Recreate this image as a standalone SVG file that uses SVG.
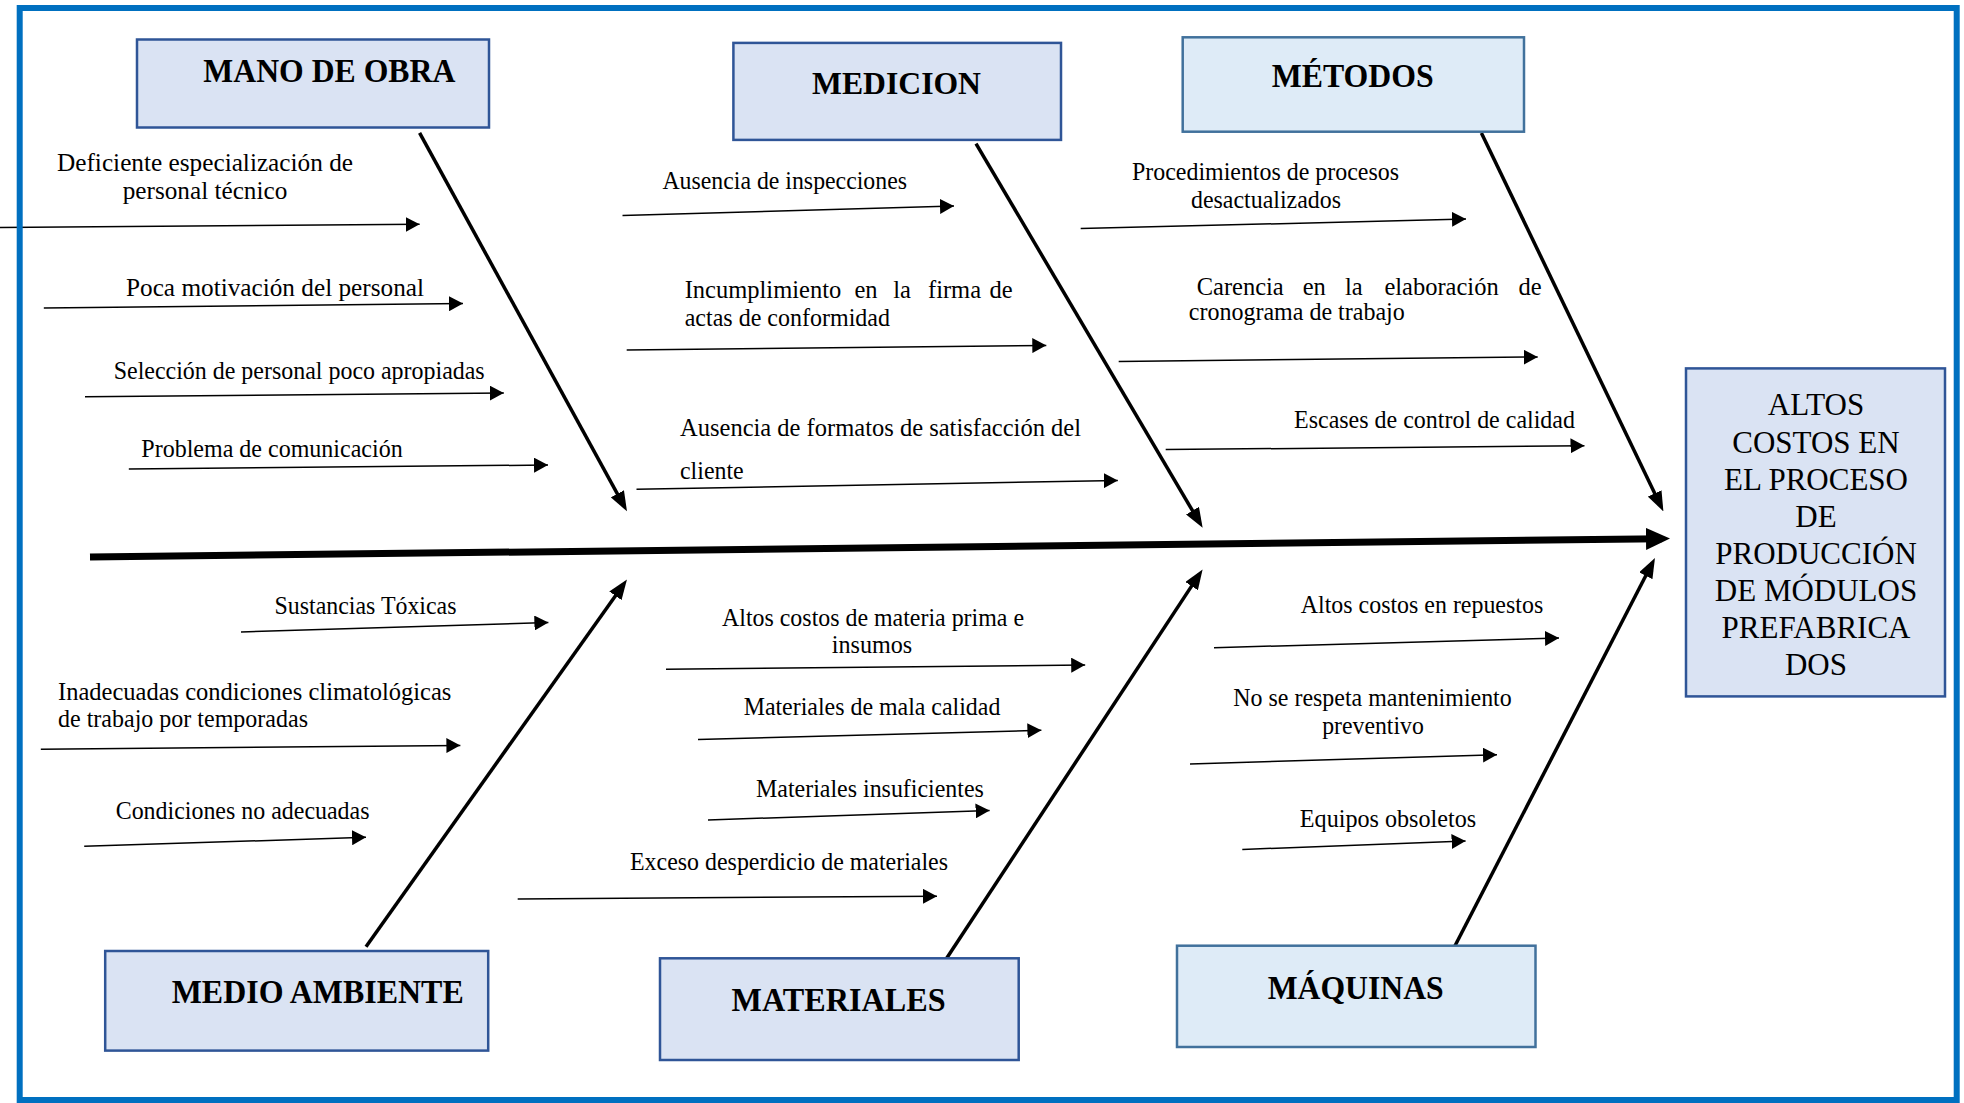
<svg xmlns="http://www.w3.org/2000/svg" width="1964" height="1103" viewBox="0 0 1964 1103">
<style>
.bg{fill:#ffffff}
.frame{fill:none;stroke:#0070C0;stroke-width:6}
.boxA{fill:#DAE3F3;stroke:#2F5597;stroke-width:2.5}
.boxB{fill:#DEEBF7;stroke:#41719C;stroke-width:2.5}
.title{font-family:"Liberation Serif","Times New Roman",serif;font-weight:bold;fill:#000}
.lbl{font-family:"Liberation Serif","Times New Roman",serif;font-size:24.5px;fill:#000}
.mid{text-anchor:middle}
.eff{font-family:"Liberation Serif","Times New Roman",serif;font-size:31px;fill:#000;text-anchor:middle}
.thin{fill:none;stroke:#000;stroke-width:1.5;marker-end:url(#hs)}
.diag{fill:none;stroke:#000;stroke-width:3.5;marker-end:url(#hd)}
.spine{fill:none;stroke:#000;stroke-width:7;marker-end:url(#hb)}
</style>
<defs>
<marker id="hs" markerUnits="userSpaceOnUse" markerWidth="14" markerHeight="15" refX="14" refY="7.5" orient="auto"><path d="M0,0 L14,7.5 L0,15 Z" fill="#000"/></marker>
<marker id="hd" markerUnits="userSpaceOnUse" markerWidth="20" markerHeight="15" refX="14" refY="7.5" orient="auto"><path d="M0,0 L20,7.5 L0,15 Z" fill="#000"/></marker>
<marker id="hb" markerUnits="userSpaceOnUse" markerWidth="24" markerHeight="22" refX="16" refY="11" orient="auto"><path d="M0,0 L24,11 L0,22 Z" fill="#000"/></marker>
</defs>
<rect class="bg" x="0" y="0" width="1964" height="1103"/>

<g id="connectors">
  <line class="spine" x1="90" y1="557" x2="1662" y2="538.7"/>
  <line class="diag" x1="419.6" y1="132.9" x2="624.1" y2="506.1"/>
  <line class="diag" x1="976" y1="143.6" x2="1199.6" y2="522.7"/>
  <line class="diag" x1="1481.4" y1="132.9" x2="1660.8" y2="506"/>
  <line class="diag" x1="366" y1="946.8" x2="623.5" y2="584.4"/>
  <line class="diag" x1="945" y1="960.8" x2="1199.3" y2="574.4"/>
  <line class="diag" x1="1455" y1="945.7" x2="1652.2" y2="563.3"/>

  <line class="thin" x1="0" y1="227.5" x2="419.6" y2="224.3"/>
  <line class="thin" x1="43.8" y1="307.9" x2="463" y2="303.6"/>
  <line class="thin" x1="85" y1="396.8" x2="503.8" y2="392.9"/>
  <line class="thin" x1="128.8" y1="469" x2="548" y2="465"/>
  <line class="thin" x1="622.5" y1="215.5" x2="954" y2="206"/>
  <line class="thin" x1="626.7" y1="350" x2="1046.3" y2="345.4"/>
  <line class="thin" x1="636.5" y1="489.3" x2="1117.8" y2="480.4"/>
  <line class="thin" x1="1080.7" y1="228.6" x2="1466" y2="219"/>
  <line class="thin" x1="1118.7" y1="361.4" x2="1537.7" y2="357"/>
  <line class="thin" x1="1165.7" y1="449.6" x2="1584.5" y2="445.7"/>
  <line class="thin" x1="241" y1="631.9" x2="548.4" y2="622.6"/>
  <line class="thin" x1="40.8" y1="749.3" x2="460.4" y2="745.4"/>
  <line class="thin" x1="84.2" y1="846.3" x2="366" y2="837.3"/>
  <line class="thin" x1="666" y1="669.3" x2="1085.2" y2="665"/>
  <line class="thin" x1="698" y1="739.6" x2="1041.4" y2="730.3"/>
  <line class="thin" x1="708" y1="820" x2="989.6" y2="810.4"/>
  <line class="thin" x1="517.7" y1="899" x2="937" y2="896.2"/>
  <line class="thin" x1="1214" y1="647.7" x2="1559" y2="638"/>
  <line class="thin" x1="1190" y1="764" x2="1497" y2="754.7"/>
  <line class="thin" x1="1242.3" y1="849.5" x2="1465.6" y2="841"/>
</g>

<g id="labels">
  <text class="lbl mid" x="205" y="170.7" textLength="296" lengthAdjust="spacingAndGlyphs">Deficiente especialización de</text>
  <text class="lbl mid" x="205" y="199.3" textLength="164.6" lengthAdjust="spacingAndGlyphs">personal técnico</text>
  <text class="lbl mid" x="275" y="295.7" textLength="298" lengthAdjust="spacingAndGlyphs">Poca motivación del personal</text>
  <text class="lbl mid" x="299.2" y="378.6" textLength="371" lengthAdjust="spacingAndGlyphs">Selección de personal poco apropiadas</text>
  <text class="lbl mid" x="272" y="457" textLength="261.4" lengthAdjust="spacingAndGlyphs">Problema de comunicación</text>

  <text class="lbl mid" x="784.7" y="189.3" textLength="244.6" lengthAdjust="spacingAndGlyphs">Ausencia de inspecciones</text>
  <text class="lbl" y="298"><tspan x="684.7">Incumplimiento</tspan><tspan x="854.4">en</tspan><tspan x="893.2">la</tspan><tspan x="928">firma</tspan><tspan x="989.6">de</tspan></text>
  <text class="lbl" x="684.7" y="325.7" textLength="205.3" lengthAdjust="spacingAndGlyphs">actas de conformidad</text>
  <text class="lbl" x="680" y="436.4" textLength="401" lengthAdjust="spacing">Ausencia de formatos de satisfacción del</text>
  <text class="lbl" x="680" y="478.6" textLength="63.7" lengthAdjust="spacingAndGlyphs">cliente</text>

  <text class="lbl mid" x="1265.5" y="180.4" textLength="267" lengthAdjust="spacingAndGlyphs">Procedimientos de procesos</text>
  <text class="lbl mid" x="1266" y="207.9" textLength="150" lengthAdjust="spacingAndGlyphs">desactualizados</text>
  <text class="lbl" y="294.6"><tspan x="1196.7">Carencia</tspan><tspan x="1302.7">en</tspan><tspan x="1345">la</tspan><tspan x="1384.4">elaboración</tspan><tspan x="1518.6">de</tspan></text>
  <text class="lbl" x="1188.8" y="319.6" textLength="216" lengthAdjust="spacingAndGlyphs">cronograma de trabajo</text>
  <text class="lbl mid" x="1434.5" y="427.9" textLength="281" lengthAdjust="spacingAndGlyphs">Escases de control de calidad</text>

  <text class="lbl mid" x="365.5" y="613.6" textLength="182" lengthAdjust="spacingAndGlyphs">Sustancias Tóxicas</text>
  <text class="lbl" y="699.8"><tspan x="58">Inadecuadas</tspan><tspan x="185.2">condiciones</tspan><tspan x="308.5">climatológicas</tspan></text>
  <text class="lbl" x="58" y="727.4" textLength="250" lengthAdjust="spacingAndGlyphs">de trabajo por temporadas</text>
  <text class="lbl mid" x="242.6" y="819.4" textLength="253.8" lengthAdjust="spacingAndGlyphs">Condiciones no adecuadas</text>

  <text class="lbl mid" x="873" y="626.2" textLength="302" lengthAdjust="spacingAndGlyphs">Altos costos de materia prima e</text>
  <text class="lbl mid" x="872" y="653" textLength="80.4" lengthAdjust="spacingAndGlyphs">insumos</text>
  <text class="lbl mid" x="872" y="715.2" textLength="256.7" lengthAdjust="spacingAndGlyphs">Materiales de mala calidad</text>
  <text class="lbl mid" x="870" y="796.7" textLength="227.8" lengthAdjust="spacingAndGlyphs">Materiales insuficientes</text>
  <text class="lbl mid" x="789" y="870.3" textLength="318" lengthAdjust="spacingAndGlyphs">Exceso desperdicio de materiales</text>

  <text class="lbl mid" x="1422" y="612.9" textLength="242.4" lengthAdjust="spacingAndGlyphs">Altos costos en repuestos</text>
  <text class="lbl mid" x="1372.5" y="705.9" textLength="278.5" lengthAdjust="spacingAndGlyphs">No se respeta mantenimiento</text>
  <text class="lbl mid" x="1373" y="733.9" textLength="101.6" lengthAdjust="spacingAndGlyphs">preventivo</text>
  <text class="lbl mid" x="1388" y="827" textLength="176.3" lengthAdjust="spacingAndGlyphs">Equipos obsoletos</text>
</g>

<g id="node-mano-de-obra">
  <rect class="boxA" x="137" y="39.5" width="352" height="88"/>
  <text class="title" x="203.3" y="81.7" font-size="34" textLength="252" lengthAdjust="spacingAndGlyphs">MANO DE OBRA</text>
</g>
<g id="node-medicion">
  <rect class="boxA" x="733.4" y="42.9" width="327.6" height="97"/>
  <text class="title" x="812" y="93.6" font-size="32" textLength="169" lengthAdjust="spacingAndGlyphs">MEDICION</text>
</g>
<g id="node-metodos">
  <rect class="boxB" x="1182.7" y="37.3" width="341.3" height="94.4"/>
  <text class="title" x="1271.7" y="86.7" font-size="33" textLength="162" lengthAdjust="spacingAndGlyphs">MÉTODOS</text>
</g>
<g id="node-medio-ambiente">
  <rect class="boxA" x="105.2" y="951" width="383" height="99.6"/>
  <text class="title" x="171.7" y="1002.5" font-size="33" textLength="292" lengthAdjust="spacingAndGlyphs">MEDIO AMBIENTE</text>
</g>
<g id="node-materiales">
  <rect class="boxA" x="660" y="958.3" width="358.7" height="101.7"/>
  <text class="title" x="731.6" y="1011" font-size="33" textLength="214" lengthAdjust="spacingAndGlyphs">MATERIALES</text>
</g>
<g id="node-maquinas">
  <rect class="boxB" x="1177" y="945.7" width="358.5" height="101.3"/>
  <text class="title" x="1267.7" y="998.9" font-size="33" textLength="176" lengthAdjust="spacingAndGlyphs">MÁQUINAS</text>
</g>
<g id="node-efecto">
  <rect class="boxA" x="1686" y="368.4" width="259" height="328"/>
  <text class="eff" x="1816" y="415.4">ALTOS</text>
  <text class="eff" x="1816" y="452.5">COSTOS EN</text>
  <text class="eff" x="1816" y="489.6">EL PROCESO</text>
  <text class="eff" x="1816" y="526.7">DE</text>
  <text class="eff" x="1816" y="563.8">PRODUCCIÓN</text>
  <text class="eff" x="1816" y="600.9">DE MÓDULOS</text>
  <text class="eff" x="1816" y="638">PREFABRICA</text>
  <text class="eff" x="1816" y="675.1">DOS</text>
</g>

<rect class="frame" x="19.7" y="8" width="1937" height="1092"/>
</svg>
